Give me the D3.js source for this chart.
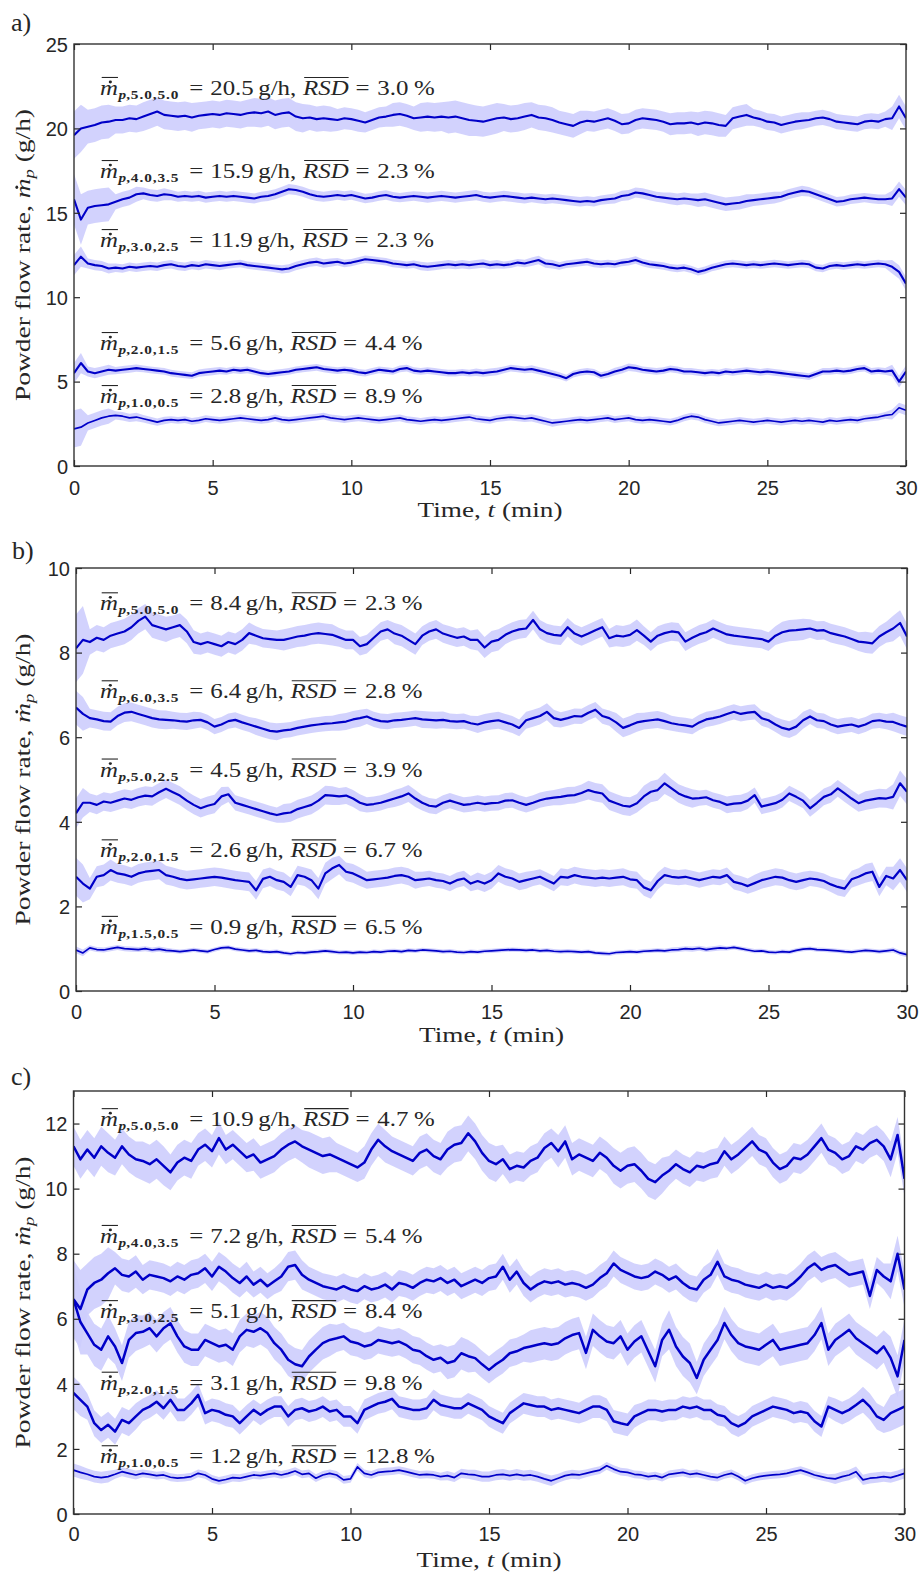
<!DOCTYPE html>
<html><head><meta charset="utf-8">
<script src="https://cdn.jsdelivr.net/npm/d3@7"></script>
<style>body{margin:0;background:#fff} svg{display:block}</style>
</head><body>
<svg id="chart" width="921" height="1576"></svg>
<script>
// ---------------- DATA ----------------
const timeMin = d3.range(0, 30.0001, 0.25);   // sample times (min)
const xTicks = [0, 5, 10, 15, 20, 25, 30];
const yTicksA = [0, 5, 10, 15, 20, 25];
const yTicksB = [0, 2, 4, 6, 8, 10];
const yTicksC = [0, 2, 4, 6, 8, 10, 12];

// Panel a) mean flow rate (g/h)
const a1 = [19.6,20.0,20.1,20.2,20.35,20.4,20.5,20.5,20.6,20.55,20.7,20.85,21.0,20.8,20.75,20.7,20.75,20.65,20.75,20.8,
20.85,20.8,20.9,20.85,20.8,20.9,20.95,20.9,21.0,20.8,20.9,20.95,20.7,20.6,20.65,20.55,20.6,20.55,20.5,20.6,
20.55,20.45,20.35,20.5,20.65,20.7,20.8,20.85,20.75,20.6,20.65,20.7,20.65,20.7,20.65,20.7,20.6,20.5,20.45,20.4,
20.5,20.6,20.65,20.55,20.6,20.7,20.8,20.65,20.6,20.5,20.35,20.25,20.15,20.35,20.45,20.4,20.5,20.6,20.45,20.25,
20.3,20.5,20.6,20.55,20.5,20.4,20.25,20.3,20.3,20.35,20.25,20.35,20.3,20.2,20.15,20.6,20.7,20.8,20.65,20.55,
20.4,20.35,20.2,20.3,20.4,20.45,20.5,20.6,20.65,20.55,20.4,20.35,20.3,20.25,20.4,20.45,20.4,20.55,20.6,21.3,
20.6];
const a2 = [15.8,14.6,15.3,15.4,15.45,15.5,15.65,15.8,15.9,16.1,16.15,16.05,16.0,16.1,16.05,15.95,16.0,15.95,16.0,15.9,
15.95,16.0,15.95,16.0,15.95,15.9,15.85,15.95,16.0,16.1,16.25,16.4,16.35,16.25,16.1,16.0,15.95,16.0,16.05,16.0,
16.05,15.95,15.85,15.9,16.0,16.05,15.95,15.9,15.95,16.0,15.95,15.9,15.95,16.0,15.95,15.9,15.95,16.0,16.05,15.95,
15.9,15.95,16.0,15.95,15.9,15.85,15.9,15.85,15.8,15.85,15.8,15.75,15.7,15.65,15.7,15.65,15.75,15.8,15.85,16.0,
16.05,16.2,16.15,16.05,15.95,15.9,15.85,15.8,15.85,15.8,15.75,15.8,15.7,15.6,15.5,15.55,15.6,15.7,15.75,15.8,
15.85,15.9,15.95,16.1,16.2,16.3,16.25,16.1,15.95,15.8,15.65,15.7,15.8,15.85,15.9,15.85,15.8,15.8,15.85,16.4,
15.9];
const a3 = [11.9,12.4,12.0,11.9,11.85,11.7,11.75,11.7,11.8,11.75,11.8,11.85,11.8,11.9,11.95,11.85,11.8,11.9,11.85,11.95,
11.9,11.85,11.9,11.95,12.0,11.9,11.85,11.8,11.75,11.7,11.65,11.7,11.85,11.95,12.05,12.1,12.0,12.05,12.1,12.0,
12.05,12.15,12.25,12.2,12.15,12.1,12.0,11.95,11.9,11.95,11.85,11.8,11.85,11.9,11.95,11.9,11.95,11.9,11.95,12.0,
11.9,11.95,11.9,11.95,12.05,12.0,12.1,12.2,12.0,11.95,11.85,11.95,12.0,12.05,12.1,12.0,11.95,12.0,11.95,12.05,
12.1,12.2,12.05,11.95,11.9,11.85,11.75,11.7,11.75,11.65,11.5,11.6,11.75,11.85,11.95,12.0,11.95,11.9,11.95,11.9,
11.95,12.0,11.95,11.9,11.95,12.0,11.95,11.75,11.7,11.85,11.9,11.85,11.9,11.95,11.9,11.95,12.0,11.95,11.8,11.5,
10.8];
const a4 = [5.5,6.1,5.6,5.5,5.6,5.7,5.65,5.7,5.75,5.8,5.75,5.7,5.65,5.6,5.5,5.45,5.4,5.35,5.5,5.55,
5.6,5.65,5.6,5.7,5.65,5.7,5.6,5.5,5.45,5.5,5.55,5.6,5.7,5.75,5.8,5.85,5.75,5.7,5.65,5.7,
5.65,5.55,5.5,5.6,5.7,5.65,5.6,5.75,5.8,5.65,5.6,5.65,5.6,5.55,5.5,5.5,5.55,5.5,5.55,5.5,
5.55,5.6,5.7,5.8,5.75,5.7,5.75,5.65,5.55,5.45,5.35,5.2,5.45,5.55,5.6,5.55,5.35,5.45,5.6,5.7,
5.85,5.8,5.7,5.65,5.6,5.65,5.75,5.7,5.6,5.6,5.55,5.5,5.55,5.5,5.6,5.55,5.6,5.65,5.6,5.55,
5.6,5.55,5.5,5.45,5.4,5.35,5.3,5.45,5.6,5.6,5.65,5.6,5.65,5.75,5.8,5.6,5.65,5.6,5.65,5.0,
5.6];
const a5 = [2.2,2.3,2.55,2.7,2.85,2.95,3.0,2.95,2.85,2.9,2.8,2.7,2.6,2.7,2.75,2.7,2.75,2.65,2.7,2.8,
2.75,2.7,2.75,2.8,2.85,2.8,2.75,2.7,2.75,2.85,2.75,2.7,2.75,2.8,2.85,2.9,2.95,2.85,2.8,2.75,
2.8,2.85,2.8,2.75,2.7,2.75,2.8,2.85,2.75,2.7,2.65,2.7,2.75,2.7,2.75,2.8,2.85,2.9,2.8,2.75,
2.7,2.8,2.85,2.9,2.85,2.8,2.85,2.75,2.65,2.55,2.6,2.65,2.7,2.75,2.7,2.75,2.8,2.85,2.75,2.8,
2.85,2.75,2.7,2.75,2.7,2.65,2.6,2.7,2.85,2.95,2.9,2.75,2.65,2.55,2.6,2.65,2.7,2.65,2.6,2.65,
2.7,2.65,2.6,2.65,2.7,2.65,2.7,2.65,2.6,2.7,2.65,2.7,2.75,2.7,2.8,2.85,2.9,3.0,3.05,3.45,
3.3];

// Panel b)
const b1 = [8.1,8.3,8.25,8.35,8.3,8.4,8.45,8.5,8.6,8.75,8.85,8.65,8.6,8.55,8.6,8.65,8.5,8.25,8.2,8.25,
8.2,8.15,8.25,8.2,8.3,8.46,8.4,8.34,8.32,8.3,8.3,8.34,8.38,8.4,8.44,8.46,8.44,8.42,8.36,8.3,
8.3,8.15,8.2,8.35,8.5,8.55,8.45,8.4,8.3,8.2,8.4,8.5,8.55,8.45,8.4,8.35,8.38,8.3,8.3,8.12,
8.26,8.3,8.42,8.5,8.55,8.57,8.77,8.55,8.46,8.42,8.4,8.6,8.45,8.38,8.45,8.53,8.6,8.34,8.4,8.38,
8.42,8.53,8.4,8.26,8.4,8.46,8.5,8.48,8.26,8.35,8.43,8.48,8.57,8.5,8.43,8.4,8.38,8.36,8.34,8.32,
8.26,8.4,8.48,8.52,8.53,8.55,8.57,8.52,8.53,8.46,8.42,8.38,8.32,8.26,8.24,8.22,8.38,8.48,8.57,8.7,
8.38];
const b2 = [6.7,6.55,6.45,6.42,6.38,6.37,6.5,6.58,6.6,6.55,6.5,6.45,6.42,6.41,6.4,6.38,6.37,6.4,6.41,6.35,
6.25,6.3,6.38,6.41,6.35,6.3,6.25,6.2,6.15,6.13,6.16,6.18,6.22,6.25,6.28,6.3,6.32,6.33,6.35,6.37,
6.42,6.45,6.49,6.42,6.38,6.37,6.4,6.41,6.43,6.45,6.42,6.41,6.4,6.41,6.38,6.37,6.38,6.33,6.3,6.35,
6.38,6.4,6.35,6.3,6.22,6.4,6.45,6.5,6.6,6.45,6.41,6.45,6.5,6.49,6.58,6.65,6.5,6.45,6.35,6.22,
6.28,6.35,6.38,6.4,6.42,6.38,6.33,6.3,6.28,6.25,6.35,6.42,6.45,6.49,6.55,6.6,6.55,6.58,6.6,6.45,
6.4,6.3,6.22,6.18,6.25,6.4,6.49,6.4,6.38,6.3,6.25,6.28,6.3,6.25,6.3,6.38,6.4,6.37,6.36,6.3,
6.25];
const b3 = [4.2,4.45,4.45,4.4,4.48,4.45,4.5,4.55,4.52,4.58,4.62,4.6,4.7,4.78,4.7,4.62,4.5,4.4,4.32,4.38,
4.42,4.6,4.65,4.45,4.4,4.35,4.3,4.25,4.2,4.16,4.2,4.22,4.3,4.35,4.4,4.5,4.63,4.62,4.6,4.62,
4.55,4.45,4.4,4.42,4.45,4.5,4.55,4.6,4.67,4.55,4.45,4.38,4.36,4.45,4.5,4.45,4.4,4.42,4.45,4.42,
4.44,4.45,4.5,4.51,4.45,4.4,4.45,4.51,4.55,4.57,4.59,4.62,4.63,4.68,4.75,4.7,4.67,4.5,4.44,4.38,
4.36,4.44,4.6,4.71,4.75,4.91,4.79,4.67,4.6,4.55,4.56,4.58,4.51,4.47,4.4,4.43,4.44,4.5,4.63,4.36,
4.4,4.44,4.52,4.67,4.59,4.5,4.32,4.45,4.59,4.65,4.79,4.67,4.55,4.44,4.5,4.53,4.56,4.55,4.59,4.91,
4.71];
const b4 = [2.7,2.54,2.42,2.7,2.74,2.86,2.78,2.75,2.7,2.78,2.82,2.84,2.86,2.74,2.7,2.65,2.62,2.64,2.66,2.68,
2.7,2.68,2.65,2.62,2.6,2.58,2.38,2.65,2.7,2.62,2.58,2.46,2.74,2.7,2.62,2.42,2.78,2.9,2.98,2.82,
2.78,2.7,2.62,2.64,2.66,2.68,2.72,2.74,2.7,2.62,2.64,2.66,2.62,2.6,2.54,2.62,2.66,2.54,2.6,2.54,
2.62,2.78,2.7,2.66,2.58,2.62,2.66,2.7,2.62,2.54,2.7,2.68,2.74,2.7,2.68,2.66,2.68,2.66,2.68,2.7,
2.64,2.62,2.45,2.38,2.6,2.74,2.7,2.68,2.7,2.66,2.62,2.66,2.7,2.68,2.74,2.58,2.54,2.48,2.55,2.62,
2.66,2.7,2.68,2.62,2.58,2.62,2.66,2.64,2.6,2.52,2.46,2.42,2.64,2.7,2.78,2.82,2.46,2.72,2.66,2.86,
2.62];
const b5 = [0.97,0.9,1.02,0.98,0.97,1.0,1.03,1.0,0.99,0.98,1.0,0.97,0.99,0.96,0.95,0.93,0.95,0.97,0.95,0.93,
0.98,1.02,1.03,0.99,0.97,0.95,0.96,0.93,0.92,0.93,0.9,0.88,0.91,0.9,0.92,0.93,0.95,0.93,0.91,0.92,
0.9,0.92,0.91,0.93,0.92,0.94,0.95,0.93,0.96,0.95,0.97,0.96,0.95,0.93,0.94,0.92,0.91,0.93,0.92,0.94,
0.95,0.96,0.97,0.98,0.97,0.96,0.97,0.95,0.96,0.94,0.93,0.94,0.93,0.92,0.93,0.9,0.89,0.88,0.91,0.92,
0.93,0.92,0.94,0.95,0.96,0.95,0.97,0.98,1.0,0.99,1.01,0.98,1.0,1.02,1.01,1.03,1.0,0.97,0.94,0.95,
0.92,0.91,0.93,0.92,0.96,0.99,1.0,0.98,0.97,0.96,0.95,0.93,0.92,0.94,0.96,0.95,0.93,0.95,0.97,0.9,
0.86];

// Panel c)
const c1 = [11.3,10.9,11.2,10.95,11.3,11.1,10.95,11.3,11.05,10.9,10.85,10.75,10.9,10.7,10.5,10.8,10.95,10.85,11.2,11.35,
11.15,11.55,11.2,11.35,11.15,10.95,11.05,10.8,10.9,11.0,11.2,11.35,11.45,11.3,11.2,11.1,11.0,11.05,10.95,10.85,
10.75,10.65,10.8,11.2,11.5,11.3,11.15,11.05,10.95,10.85,11.1,11.2,11.0,10.9,11.2,11.35,11.4,11.7,11.45,11.1,
10.85,10.75,10.9,10.6,10.7,10.65,10.85,10.95,11.25,11.4,11.15,11.45,10.9,11.05,10.95,10.85,11.1,10.95,10.7,10.55,
10.7,10.75,10.55,10.3,10.2,10.4,10.55,10.75,10.6,10.5,10.7,10.65,10.75,10.8,11.15,10.9,11.05,11.25,11.45,11.2,
11.1,10.8,10.6,10.7,10.95,10.9,11.05,11.3,11.55,11.2,11.1,10.9,11.0,11.3,11.2,11.4,11.5,11.3,10.9,11.65,
10.3];
const c2 = [6.6,6.3,6.9,7.1,7.2,7.4,7.55,7.35,7.3,7.45,7.2,7.35,7.3,7.25,7.15,7.3,7.2,7.35,7.4,7.55,
7.3,7.6,7.45,7.25,7.1,7.3,7.05,7.2,7.0,7.15,7.3,7.6,7.65,7.35,7.2,7.1,7.0,6.95,6.9,7.0,
6.9,6.85,7.0,6.9,6.95,7.05,6.9,7.1,7.05,6.95,7.1,7.2,7.15,7.25,7.1,7.2,7.0,7.1,7.2,7.1,
7.25,7.3,7.6,7.2,7.45,7.1,6.9,7.05,7.15,7.1,7.15,7.05,7.1,7.05,6.95,7.05,7.25,7.4,7.7,7.5,
7.4,7.3,7.25,7.3,7.45,7.35,7.2,7.3,7.1,6.95,6.9,7.2,7.35,7.75,7.3,7.2,7.15,7.05,7.0,6.95,
7.05,6.95,7.0,6.95,7.1,7.3,7.55,7.7,7.5,7.6,7.65,7.5,7.35,7.4,7.45,6.7,7.5,7.3,7.15,8.0,
6.9];
const c3 = [6.6,5.9,5.55,5.2,5.05,5.46,5.15,4.64,5.35,5.56,5.6,5.71,5.46,5.71,5.86,5.46,5.15,5.05,5.05,5.35,
5.25,5.15,5.2,5.05,5.46,5.66,5.6,5.71,5.56,5.25,5.05,4.74,4.6,4.54,4.84,5.05,5.25,5.35,5.4,5.46,
5.3,5.25,5.15,5.2,5.35,5.3,5.25,5.3,5.2,5.05,5.0,4.85,4.74,4.8,4.64,4.7,4.94,4.85,4.79,4.6,
4.43,4.6,4.74,4.94,5.0,5.1,5.15,5.2,5.25,5.2,5.25,5.4,5.5,5.56,4.95,5.66,5.46,5.3,5.25,5.46,
5.05,5.3,5.46,5.0,4.54,5.35,5.66,5.15,4.84,4.64,4.18,4.74,5.05,5.35,5.87,5.5,5.25,5.15,5.1,5.05,
5.2,5.35,5.05,5.1,5.15,5.2,5.25,5.5,5.87,5.05,5.35,5.5,5.66,5.4,5.25,5.1,4.94,5.15,4.8,4.23,
5.35];
const c4 = [3.72,3.51,3.3,2.79,2.58,2.74,2.53,2.89,2.79,3.0,3.2,3.3,3.45,3.25,3.51,3.2,3.2,3.4,3.66,3.1,
3.2,3.15,3.05,3.0,2.79,3.0,3.2,3.05,3.2,3.3,3.3,3.0,3.2,3.25,3.15,3.2,3.3,3.15,3.2,3.0,
3.0,2.79,3.2,3.3,3.4,3.45,3.54,3.3,3.25,3.2,3.2,3.25,3.51,3.35,3.3,3.25,3.25,3.4,3.3,3.2,
3.0,2.89,2.79,3.1,3.25,3.4,3.35,3.3,3.3,3.2,3.25,3.2,3.15,3.1,3.2,3.3,3.3,3.2,2.85,2.79,
2.74,3.0,3.1,3.2,3.2,3.15,3.2,3.2,3.3,3.25,3.3,3.2,3.2,3.05,3.0,2.79,2.69,2.8,3.0,3.1,
3.2,3.3,3.25,3.2,3.1,3.15,3.1,2.85,2.69,3.3,3.2,3.1,3.2,3.35,3.51,3.3,3.0,2.89,3.1,3.2,
3.3];
const c5 = [1.35,1.28,1.22,1.15,1.12,1.15,1.22,1.3,1.25,1.2,1.25,1.22,1.18,1.2,1.13,1.1,1.12,1.15,1.25,1.2,
1.08,1.02,1.06,1.12,1.1,1.15,1.2,1.18,1.22,1.25,1.2,1.25,1.32,1.22,1.25,1.1,1.2,1.25,1.2,1.05,
1.08,1.45,1.25,1.2,1.28,1.3,1.32,1.35,1.3,1.25,1.2,1.22,1.2,1.15,1.18,1.12,1.25,1.22,1.2,1.15,
1.15,1.2,1.22,1.18,1.22,1.18,1.2,1.15,1.08,1.02,1.1,1.18,1.22,1.2,1.25,1.3,1.35,1.48,1.38,1.3,
1.28,1.22,1.2,1.15,1.18,1.12,1.22,1.25,1.28,1.22,1.25,1.2,1.15,1.12,1.2,1.25,1.15,1.02,1.1,1.15,
1.18,1.2,1.22,1.25,1.3,1.35,1.28,1.2,1.15,1.1,1.08,1.15,1.2,1.3,1.05,1.1,1.12,1.15,1.12,1.18,
1.25];

// Spread (half-width of shaded band, g/h), one value per minute 0..30
const sA1 = [1.4,1.0,0.8,0.85,0.85,0.8,0.8,0.85,0.85,0.75,0.65,0.6,0.7,0.85,0.95,0.9,0.8,0.75,0.7,0.6,0.6,0.6,0.65,0.7,0.65,0.5,0.5,0.45,0.45,0.45,0.7];
const sA2 = [1.5,1.0,0.45,0.35,0.3,0.3,0.3,0.3,0.3,0.3,0.28,0.28,0.28,0.3,0.3,0.3,0.3,0.28,0.28,0.28,0.3,0.3,0.35,0.4,0.4,0.35,0.3,0.28,0.28,0.28,0.45];
const sA3 = [0.6,0.3,0.25,0.25,0.25,0.25,0.22,0.22,0.25,0.25,0.22,0.22,0.22,0.25,0.25,0.25,0.22,0.25,0.22,0.22,0.22,0.22,0.22,0.22,0.22,0.22,0.22,0.22,0.22,0.22,0.4];
const sA4 = [0.6,0.3,0.22,0.2,0.2,0.22,0.2,0.2,0.2,0.2,0.2,0.2,0.2,0.2,0.2,0.22,0.2,0.22,0.2,0.2,0.22,0.2,0.2,0.2,0.2,0.2,0.2,0.2,0.2,0.2,0.35];
const sA5 = [1.1,0.45,0.25,0.22,0.2,0.2,0.2,0.2,0.2,0.2,0.2,0.2,0.2,0.2,0.2,0.2,0.2,0.22,0.2,0.2,0.2,0.2,0.2,0.2,0.2,0.2,0.2,0.2,0.2,0.2,0.3];
const sB1 = [0.8,0.3,0.3,0.3,0.28,0.25,0.25,0.22,0.25,0.25,0.22,0.22,0.25,0.22,0.22,0.25,0.22,0.22,0.22,0.22,0.25,0.22,0.22,0.22,0.22,0.22,0.25,0.22,0.22,0.25,0.3];
const sB2 = [0.4,0.22,0.22,0.22,0.2,0.18,0.18,0.2,0.18,0.18,0.2,0.18,0.18,0.2,0.18,0.2,0.2,0.2,0.18,0.18,0.22,0.2,0.18,0.18,0.18,0.18,0.2,0.18,0.18,0.18,0.22];
const sB3 = [0.35,0.22,0.22,0.22,0.22,0.22,0.18,0.18,0.22,0.22,0.2,0.18,0.2,0.18,0.18,0.18,0.18,0.18,0.2,0.22,0.22,0.25,0.22,0.18,0.2,0.18,0.18,0.2,0.2,0.22,0.3];
const sB4 = [0.45,0.25,0.22,0.22,0.22,0.22,0.22,0.22,0.22,0.25,0.22,0.2,0.2,0.18,0.18,0.2,0.2,0.18,0.2,0.2,0.2,0.2,0.18,0.18,0.18,0.2,0.2,0.18,0.2,0.22,0.28];
const sB5 = [0.08,0.06,0.06,0.06,0.05,0.05,0.05,0.05,0.05,0.05,0.05,0.05,0.05,0.05,0.05,0.05,0.05,0.05,0.05,0.05,0.05,0.05,0.06,0.06,0.05,0.05,0.05,0.05,0.05,0.05,0.06];
const sC1 = [0.6,0.6,0.55,0.6,0.55,0.5,0.45,0.5,0.5,0.55,0.45,0.5,0.45,0.5,0.55,0.55,0.45,0.45,0.5,0.5,0.55,0.55,0.45,0.45,0.45,0.45,0.45,0.45,0.45,0.45,0.55];
const sC2 = [1.2,0.8,0.5,0.45,0.45,0.45,0.45,0.4,0.45,0.4,0.4,0.4,0.4,0.4,0.4,0.4,0.4,0.4,0.4,0.4,0.4,0.4,0.4,0.4,0.4,0.4,0.4,0.4,0.4,0.4,0.55];
const sC3 = [1.0,0.65,0.55,0.5,0.5,0.5,0.5,0.5,0.5,0.5,0.42,0.42,0.42,0.42,0.5,0.42,0.42,0.5,0.5,0.5,0.5,0.5,0.6,0.5,0.5,0.5,0.5,0.5,0.5,0.5,0.65];
const sC4 = [0.5,0.4,0.4,0.35,0.35,0.35,0.35,0.32,0.32,0.32,0.32,0.32,0.32,0.32,0.32,0.32,0.32,0.32,0.32,0.35,0.35,0.32,0.32,0.32,0.32,0.32,0.32,0.32,0.35,0.4,0.55];
const sC5 = [0.2,0.18,0.14,0.12,0.12,0.12,0.12,0.12,0.12,0.12,0.12,0.12,0.12,0.12,0.14,0.16,0.16,0.16,0.14,0.12,0.12,0.12,0.12,0.12,0.12,0.12,0.12,0.12,0.16,0.16,0.16];

// Annotation texts: [subscript, mean g/h, RSD %]
const labelsA = [["5.0,5.0","20.5","3.0"],["4.0,3.5","15.9","2.3"],["3.0,2.5","11.9","2.3"],["2.0,1.5","5.6","4.4"],["1.0,0.5","2.8","8.9"]];
const labelsB = [["5.0,5.0","8.4","2.3"],["6.0,3.5","6.4","2.8"],["5.0,2.5","4.5","3.9"],["2.0,1.5","2.6","6.7"],["1.5,0.5","0.9","6.5"]];
const labelsC = [["5.0,5.0","10.9","4.7"],["4.0,3.5","7.2","5.4"],["3.0,2.5","5.1","8.4"],["2.0,1.5","3.1","9.8"],["1.0,0.5","1.2","12.8"]];
// baseline of each annotation, in axis units
const labelYA = [21.98, 17.06, 12.97, 6.87, 3.73];
const labelYB = [9.0, 6.92, 5.07, 3.16, 1.35];
const labelYC = [11.92, 8.33, 6.02, 3.82, 1.56];

// ---------------- LAYOUT / STYLE ----------------
const SERIF = "'Liberation Serif','DejaVu Serif',serif";
const SANS = "'Liberation Sans',Arial,sans-serif";
const INK = "#262626";
const LINE = "#0000c8";
const BAND = "#cdcdfd";

const panels = [
  {id:"a", left:74, right:906, top:44, bottom:466, ymax:25, yTicks:yTicksA, lw:2.1,
   series:[a1,a2,a3,a4,a5], spreads:[sA1,sA2,sA3,sA4,sA5], labels:labelsA, labelY:labelYA,
   letterX:11, letterY:31, tickY:29, xLabelY:517, xLabelSize:22},
  {id:"b", left:76, right:907, top:568, bottom:991, ymax:10, yTicks:yTicksB, lw:2.2,
   series:[b1,b2,b3,b4,b5], spreads:[sB1,sB2,sB3,sB4,sB5], labels:labelsB, labelY:labelYB,
   letterX:12, letterY:559, tickY:28, xLabelY:1042, xLabelSize:22},
  {id:"c", left:73.5, right:904.5, top:1091, bottom:1514, ymax:13, yTicks:yTicksC, lw:2.5,
   series:[c1,c2,c3,c4,c5], spreads:[sC1,sC2,sC3,sC4,sC5], labels:labelsC, labelY:labelYC,
   letterX:11, letterY:1085, tickY:27, xLabelY:1567, xLabelSize:21}
];

const svg = d3.select("#chart");
svg.append("rect").attr("width", 921).attr("height", 1576).attr("fill", "#fff");

function rich(g, x, y, pieces) {
  let cx = x;
  pieces.forEach(p => {
    cx += p.gap || 0;
    const t = g.append("text").attr("x", cx).attr("y", y + (p.dy || 0))
      .attr("font-family", SERIF).attr("font-size", p.size)
      .attr("font-style", p.italic ? "italic" : "normal")
      .attr("font-weight", p.bold ? "bold" : "normal")
      .attr("letter-spacing", p.ls || 0)
      .attr("fill", INK).style("white-space", "pre").text(p.text);
    const w = t.node().getComputedTextLength();
    if (p.bar) g.append("line").attr("x1", cx + p.bar[0]).attr("x2", cx + w + p.bar[1])
      .attr("y1", y - p.bar[2]).attr("y2", y - p.bar[2]).attr("stroke", INK).attr("stroke-width", p.bar[3]);
    if (p.dot) g.append("circle").attr("cx", cx + w / 2 + p.dot[0]).attr("cy", y - p.dot[1])
      .attr("r", p.dot[2]).attr("fill", INK);
    cx += w;
  });
  return cx - x;
}
function annPieces(L) {
  return [
    {text: "m", size: 22, italic: true, bar: [1.5, 0, 17.5, 1.1], dot: [1.2, 13, 1.4]},
    {text: "p", size: 13.5, italic: true, bold: true, dy: 4, gap: 0.5},
    {text: "," + L[0], size: 13.5, bold: true, dy: 4, ls: 0.8},
    {text: "=", size: 22, gap: 9},
    {text: L[1], size: 22, gap: 6},
    {text: "g/h,", size: 22, gap: 4},
    {text: "RSD", size: 22, italic: true, gap: 6, bar: [1, 0, 17.5, 1.1]},
    {text: "=", size: 22, gap: 6},
    {text: L[2], size: 22, gap: 7},
    {text: "%", size: 22, gap: 5}
  ];
}
// horizontal stretch so the LaTeX-like labels get the reference width
const probe = svg.append("g");
const annScale = 335 / rich(probe, 0, -100, annPieces(labelsA[0]));
probe.remove();

let bad = [];
panels.forEach(P => {
  P.series.forEach((s, k) => { if (s.length !== timeMin.length) bad.push(P.id + (k + 1) + ":" + s.length); });
  P.spreads.forEach((s, k) => { if (s.length !== 31) bad.push("s" + P.id + (k + 1) + ":" + s.length); });

  const x = d3.scaleLinear().domain([0, 30]).range([P.left, P.right]);
  const y = d3.scaleLinear().domain([0, P.ymax]).range([P.bottom, P.top]);
  const g = svg.append("g");
  const clipId = "clip-" + P.id;
  svg.append("clipPath").attr("id", clipId).append("rect")
    .attr("x", P.left).attr("y", P.top).attr("width", P.right - P.left).attr("height", P.bottom - P.top);
  const plot = g.append("g").attr("clip-path", `url(#${clipId})`);

  // shaded bands
  P.series.forEach((vals, k) => {
    const sp = P.spreads[k];
    const pts = timeMin.map((t, i) => ({t, v: vals[i], s: sp[Math.round(t)]}));
    plot.append("path").datum(pts)
      .attr("d", d3.area().x(d => x(d.t)).y0(d => y(d.v - d.s)).y1(d => y(d.v + d.s)))
      .attr("fill", BAND).attr("opacity", 0.9);
  });
  // mean lines
  P.series.forEach((vals, k) => {
    plot.append("path").datum(timeMin.map((t, i) => ({t, v: vals[i]})))
      .attr("d", d3.line().x(d => x(d.t)).y(d => y(d.v)))
      .attr("fill", "none").attr("stroke", LINE)
      .attr("stroke-width", k === 4 ? 1.7 : P.lw).attr("stroke-linejoin", "round");
  });

  // axes (ticks inward on all sides)
  const style = sel => { sel.select(".domain").remove(); sel.attr("color", INK);
    sel.selectAll(".tick line").attr("stroke-width", 1.2); };
  const axB = g.append("g").attr("transform", `translate(0,${P.bottom})`)
    .call(d3.axisBottom(x).tickValues(xTicks).tickSizeInner(-6).tickSizeOuter(0)).call(style);
  axB.selectAll("text").attr("y", P.tickY).attr("dy", null).attr("font-family", SANS)
    .attr("font-size", 20).attr("fill", INK);
  g.append("g").attr("transform", `translate(0,${P.top})`)
    .call(d3.axisTop(x).tickValues(xTicks).tickSizeInner(-6).tickSizeOuter(0).tickFormat("")).call(style);
  const axL = g.append("g").attr("transform", `translate(${P.left},0)`)
    .call(d3.axisLeft(y).tickValues(P.yTicks).tickSizeInner(-6).tickSizeOuter(0).tickPadding(6)).call(style);
  axL.selectAll("text").attr("x", -6).attr("dy", "0.36em").attr("font-family", SANS)
    .attr("font-size", 20).attr("fill", INK);
  g.append("g").attr("transform", `translate(${P.right},0)`)
    .call(d3.axisRight(y).tickValues(P.yTicks).tickSizeInner(-6).tickSizeOuter(0).tickFormat("")).call(style);
  g.append("rect").attr("x", P.left).attr("y", P.top).attr("width", P.right - P.left)
    .attr("height", P.bottom - P.top).attr("fill", "none").attr("stroke", "#333").attr("stroke-width", 1.4);

  // annotations
  P.labels.forEach((L, k) => {
    const ga = g.append("g").attr("transform", `translate(100,0) scale(${annScale},1) translate(-100,0)`);
    rich(ga, 100, y(P.labelY[k]), annPieces(L));
  });

  // y-axis title (rotated)
  const cy = (P.top + P.bottom) / 2;
  const gy = g.append("g").attr("transform", `translate(30,${cy}) rotate(-90)`);
  const inner = gy.append("g");
  const wY = rich(inner, 0, 0, [
    {text: "Powder flow rate, ", size: 22},
    {text: "m", size: 22, italic: true, dot: [1, 13.2, 1.4]},
    {text: "p", size: 15, italic: true, dy: 4},
    {text: " (g/h)", size: 22}
  ]);
  const sY = 292 / wY;
  inner.attr("transform", `translate(${-146},0) scale(${sY},1)`);

  // x-axis title
  const gx = g.append("g");
  const inX = gx.append("g");
  const wX = rich(inX, 0, P.xLabelY, [
    {text: "Time, ", size: P.xLabelSize}, {text: "t", size: P.xLabelSize, italic: true},
    {text: " (min)", size: P.xLabelSize}
  ]);
  const sX = 145 / wX;
  gx.attr("transform", `translate(${(P.left + P.right) / 2 - 72.5},0) scale(${sX},1)`);

  // panel letter
  g.append("text").attr("x", P.letterX).attr("y", P.letterY).attr("font-family", SERIF)
    .attr("font-size", 26).attr("fill", INK).text(P.id + ")");
});
if (bad.length) svg.append("text").attr("x", 300).attr("y", 20).attr("fill", "red").text(bad.join(" "));
</script>
</body></html>
